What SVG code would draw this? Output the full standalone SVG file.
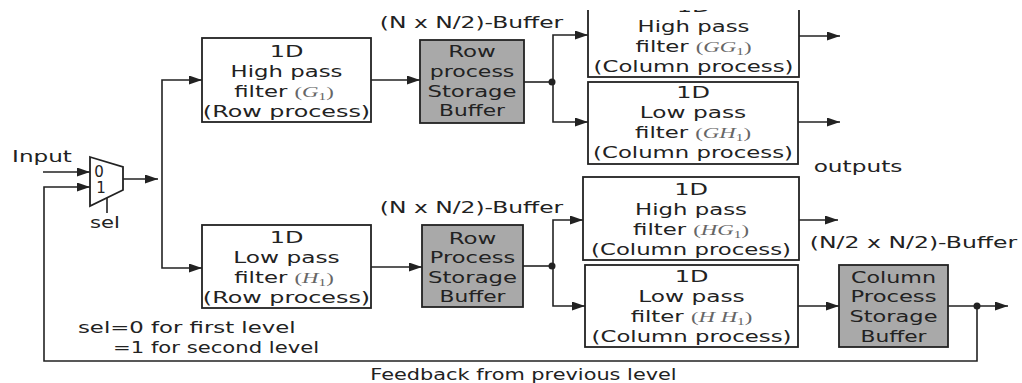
<svg xmlns="http://www.w3.org/2000/svg" width="1022" height="383" viewBox="0 0 1022 383">
<style>
.t{font-family:"DejaVu Sans","Verdana",sans-serif;font-size:15px;fill:#222;text-anchor:middle}
.l{text-anchor:start}
.m{font-family:"Liberation Serif","Times New Roman",serif;fill:#666}
.i{font-style:italic}
.s{font-size:10px}
.b{fill:#fff;stroke:#222;stroke-width:1.8}
.g{fill:#a9a9a9;stroke:#222;stroke-width:1.8}
.c{fill:none;stroke:#222;stroke-width:1.6}
.a{marker-end:url(#ah)}
.d{fill:#222}
</style>
<defs>
<marker id="ah" markerUnits="userSpaceOnUse" markerWidth="14" markerHeight="10" refX="13" refY="4.5" orient="auto">
<path d="M0,0 L13,4.5 L0,9 z" fill="#222"/>
</marker>
<clipPath id="top"><rect x="0" y="10" width="1022" height="373"/></clipPath>
</defs>
<rect width="1022" height="383" fill="#fff"/>

<g id="connectors">
<path class="c a" d="M43,172 H90"/>
<path class="c a" d="M977,306 V361 H44 V187 H90"/>
<path class="c a" d="M948,306 H1008"/>
<circle class="d" cx="977" cy="306" r="3.5"/>
<path class="c" d="M107,198 V213"/>
<path class="c a" d="M123,179 H158"/>
<path class="c a" d="M162,179 V80 H202"/>
<path class="c a" d="M162,179 V268 H202"/>
<path class="c a" d="M371,80 H420"/>
<path class="c" d="M524,82 H553"/>
<circle class="d" cx="552" cy="82" r="3.5"/>
<path class="c a" d="M553,82 V35 H588"/>
<path class="c a" d="M553,82 V122 H588"/>
<path class="c a" d="M799,36 H840"/>
<path class="c a" d="M798,122 H840"/>
<path class="c a" d="M371,267 H422"/>
<path class="c" d="M523,266 H553"/>
<circle class="d" cx="552" cy="266" r="3.5"/>
<path class="c a" d="M553,266 V220 H583"/>
<path class="c a" d="M553,266 V306 H585"/>
<path class="c a" d="M799,220 H838"/>
<path class="c a" d="M798,306 H839"/>
</g>

<g id="mux">
<polygon class="b" points="90,157 123,167 123,190 90,206"/>
<text class="t" style="font-size:15px" x="99" y="177">0</text>
<text class="t" style="font-size:15px" x="101" y="193">1</text>
</g>

<g id="G1">
<rect class="b" x="202" y="38" width="169" height="84"/>
<text class="t" transform="translate(286.5,57) scale(1.6,1)">1D</text>
<text class="t" transform="translate(286.5,77) scale(1.52,1)">High pass</text>
<text class="t" transform="translate(284,97) scale(1.52,1)">filter <tspan class="m">(<tspan class="i">G</tspan><tspan class="s" dy="3">1</tspan><tspan dy="-3">)</tspan></tspan></text>
<text class="t" transform="translate(286.5,117) scale(1.59,1)">(Row process)</text>
</g>

<g id="H1">
<rect class="b" x="202" y="225" width="169" height="83"/>
<text class="t" transform="translate(286.5,243) scale(1.6,1)">1D</text>
<text class="t" transform="translate(286.5,263) scale(1.55,1)">Low pass</text>
<text class="t" transform="translate(284,283) scale(1.52,1)">filter <tspan class="m">(<tspan class="i">H</tspan><tspan class="s" dy="3">1</tspan><tspan dy="-3">)</tspan></tspan></text>
<text class="t" transform="translate(286.5,303) scale(1.59,1)">(Row process)</text>
</g>

<g id="rowbuf1">
<rect class="g" x="420" y="40" width="104" height="83"/>
<text class="t" transform="translate(472,57) scale(1.53,1)">Row</text>
<text class="t" transform="translate(472,77) scale(1.47,1)">process</text>
<text class="t" transform="translate(472,97) scale(1.52,1)">Storage</text>
<text class="t" transform="translate(472,116) scale(1.45,1)">Buffer</text>
</g>

<g id="rowbuf2">
<rect class="g" x="422" y="225" width="101" height="82"/>
<text class="t" transform="translate(472.5,244) scale(1.53,1)">Row</text>
<text class="t" transform="translate(472.5,263) scale(1.5,1)">Process</text>
<text class="t" transform="translate(472.5,283) scale(1.52,1)">Storage</text>
<text class="t" transform="translate(472.5,302) scale(1.45,1)">Buffer</text>
</g>

<g id="GG1" clip-path="url(#top)">
<rect class="b" x="588" y="-7" width="211" height="84"/>
<text class="t" transform="translate(693.5,12) scale(1.6,1)">1D</text>
<text class="t" transform="translate(693.5,32) scale(1.52,1)">High pass</text>
<text class="t" transform="translate(693.5,52) scale(1.52,1)">filter <tspan class="m">(<tspan class="i">GG</tspan><tspan class="s" dy="3">1</tspan><tspan dy="-3">)</tspan></tspan></text>
<text class="t" transform="translate(693.5,72) scale(1.52,1)">(Column process)</text>
</g>

<g id="GH1">
<rect class="b" x="588" y="82" width="210" height="82"/>
<text class="t" transform="translate(693,98) scale(1.6,1)">1D</text>
<text class="t" transform="translate(693,118) scale(1.55,1)">Low pass</text>
<text class="t" transform="translate(693,138) scale(1.52,1)">filter <tspan class="m">(<tspan class="i">GH</tspan><tspan class="s" dy="3">1</tspan><tspan dy="-3">)</tspan></tspan></text>
<text class="t" transform="translate(693,158) scale(1.52,1)">(Column process)</text>
</g>

<g id="HG1">
<rect class="b" x="583" y="177" width="216" height="83"/>
<text class="t" transform="translate(691,195) scale(1.6,1)">1D</text>
<text class="t" transform="translate(691,215) scale(1.52,1)">High pass</text>
<text class="t" transform="translate(691,235) scale(1.52,1)">filter <tspan class="m">(<tspan class="i">HG</tspan><tspan class="s" dy="3">1</tspan><tspan dy="-3">)</tspan></tspan></text>
<text class="t" transform="translate(691,255) scale(1.52,1)">(Column process)</text>
</g>

<g id="HH1">
<rect class="b" x="585" y="265" width="213" height="82"/>
<text class="t" transform="translate(691.5,282) scale(1.6,1)">1D</text>
<text class="t" transform="translate(691.5,302) scale(1.55,1)">Low pass</text>
<text class="t" transform="translate(691.5,322) scale(1.52,1)">filter <tspan class="m">(<tspan class="i">H H</tspan><tspan class="s" dy="3">1</tspan><tspan dy="-3">)</tspan></tspan></text>
<text class="t" transform="translate(691.5,342) scale(1.52,1)">(Column process)</text>
</g>

<g id="colbuf">
<rect class="g" x="839" y="265" width="109" height="82"/>
<text class="t" transform="translate(893.5,283) scale(1.48,1)">Column</text>
<text class="t" transform="translate(893.5,302) scale(1.51,1)">Process</text>
<text class="t" transform="translate(893.5,322) scale(1.5,1)">Storage</text>
<text class="t" transform="translate(893.5,342) scale(1.45,1)">Buffer</text>
</g>

<g id="labels">
<text class="t" transform="translate(42,162) scale(1.54,1)">Input</text>
<text class="t" transform="translate(105,228) scale(1.41,1)">sel</text>
<text class="t" transform="translate(471.5,28) scale(1.56,1)">(N x N/2)-Buffer</text>
<text class="t" transform="translate(471.5,213) scale(1.56,1)">(N x N/2)-Buffer</text>
<text class="t" transform="translate(913.5,248) scale(1.57,1)">(N/2 x N/2)-Buffer</text>
<text class="t" transform="translate(858,172) scale(1.55,1)">outputs</text>
<text class="t l" transform="translate(78,333) scale(1.52,1)">sel=0 for first level</text>
<text class="t l" transform="translate(113,353) scale(1.41,1)">=1 for second level</text>
<text class="t" transform="translate(523.5,380) scale(1.39,1)">Feedback from previous level</text>
</g>
</svg>
